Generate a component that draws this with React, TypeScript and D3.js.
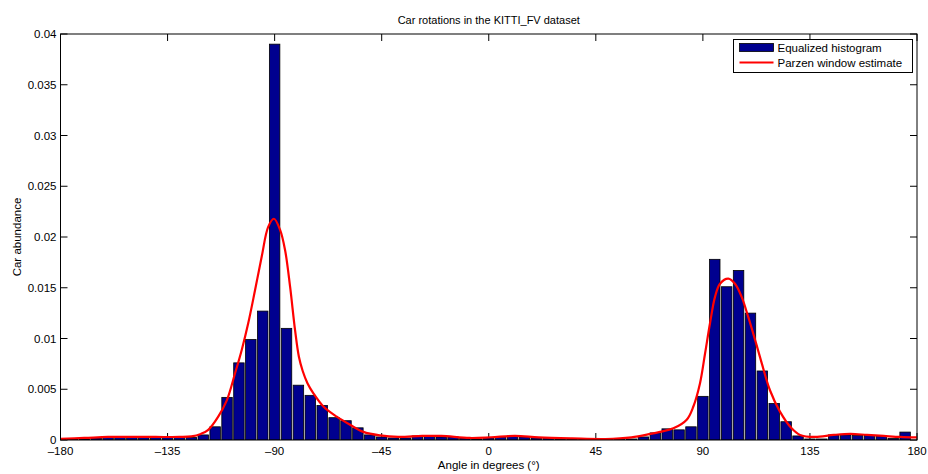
import React from "react";
import * as d3 from "d3";

const binCenters: number[] = d3.range(-180, 180, 5);
const histValues: number[] = [
  0.0001, 0.0001, 0.0001, 0.0002, 0.0003, 0.0003, 0.0003, 0.0003, 0.0003, 0.0003,
  0.0003, 0.00025, 0.0005, 0.0013, 0.0042, 0.0076, 0.0099, 0.0127, 0.039, 0.011,
  0.0054, 0.0044, 0.0034, 0.0022, 0.0019, 0.0012, 0.0005, 0.0003, 0.0002, 0.0002,
  0.0004, 0.0004, 0.0003, 0.0003, 0.0002, 0.0001, 0.0002, 0.0003, 0.0004, 0.0003,
  0.0002, 0.0002, 0.0001, 0.0001, 0.0001, 0.0001, 0.0001, 0.0001, 0.0001, 0.0003,
  0.0007, 0.0011, 0.001, 0.0013, 0.0043, 0.0178, 0.0151, 0.0167, 0.0125, 0.0068,
  0.0036, 0.0018, 0.0004, 0.0001, 0.0001, 0.0005, 0.0005, 0.00045, 0.00045, 0.0004,
  0.00015, 0.00078,
];

const parzenAngles: number[] = [
  -180, -170, -160, -150, -140, -130, -125, -121, -117.9, -113.7, -110.1, -106.6, -103.8,
  -101.1, -98.2, -95.4, -92.7, -90.3, -87.7, -85.6, -83.5, -81.4, -79.8, -78.2, -76.2, -73.7,
  -69.5, -63.9, -58.3, -52.7, -45.7, -38, -28, -20, -8, 1, 11, 21, 35, 49, 60, 68, 72, 77.6,
  83.2, 86, 88.8, 90.9, 93, 95.1, 97.2, 100.7, 103.5, 106.3, 109.1, 111.9, 114.7, 118.2,
  122.4, 127.3, 130.8, 137, 145, 152, 159, 166, 173, 180,
];
const parzenValues: number[] = [
  0.00012, 0.0002, 0.0003, 0.0003, 0.0003, 0.0003, 0.00035, 0.0006, 0.001, 0.0023, 0.0039,
  0.0066, 0.0089, 0.0115, 0.0148, 0.0181, 0.021, 0.0218, 0.0207, 0.0187, 0.0151, 0.0108,
  0.0082, 0.0068, 0.0056, 0.0046, 0.0033, 0.0023, 0.0015, 0.0008, 0.00045, 0.0003, 0.0004,
  0.0004, 0.0002, 0.00027, 0.0004, 0.00026, 0.00016, 0.0001, 0.00026, 0.0006, 0.0008,
  0.00115, 0.002, 0.0033, 0.0056, 0.0085, 0.0115, 0.0141, 0.0154, 0.0159, 0.0154, 0.0141,
  0.0121, 0.0099, 0.0076, 0.0049, 0.0028, 0.00115, 0.0005, 0.0003, 0.0005, 0.0006, 0.0005,
  0.0004, 0.0003, 0.00025,
];

const xTicks: number[] = [-180, -135, -90, -45, 0, 45, 90, 135, 180];
const yTicks: number[] = [0, 0.005, 0.01, 0.015, 0.02, 0.025, 0.03, 0.035, 0.04];

const titleText = "Car rotations in the KITTI_FV dataset";
const xLabelText = "Angle in degrees (°)";
const yLabelText = "Car abundance";
const legendLabels: string[] = ["Equalized histogram", "Parzen window estimate"];

const W = 928;
const H = 474;
const L = 60.5;
const R = 917;
const T = 34;
const B = 440;
const FONT = "'Liberation Sans', Arial, Helvetica, sans-serif";
const FS = 11.5;
const TICK = 7;

const fmtX = (v: number) => (v < 0 ? "\u2013" + Math.abs(v) : String(v));
const fmtY = (v: number) => (v === 0 ? "0" : String(+v.toFixed(3)));

export default function App() {
  const x = d3.scaleLinear().domain([-180, 180]).range([L, R]);
  const y = d3.scaleLinear().domain([0, 0.04]).range([B, T]);
  const binW = 5;
  const barFrac = 0.88;

  const parzen = parzenAngles.map((a, i) => [a, parzenValues[i]] as [number, number]);
  const line = d3
    .line<[number, number]>()
    .x((d) => x(d[0]))
    .y((d) => y(d[1]))
    .curve(d3.curveCatmullRom.alpha(0.5));

  const lx = 733.5;
  const ly = 39.5;
  const lw = 179;
  const lh = 33;

  return (
    <svg width={W} height={H} style={{ position: "absolute", left: 0, top: 0, background: "#fff" }}>
      <rect x={0} y={0} width={W} height={H} fill="#fff" />
      <defs>
        <clipPath id="plotClip">
          <rect x={L} y={T} width={R - L} height={B - T} />
        </clipPath>
      </defs>
      <g stroke="#000" strokeWidth={1}>
        {xTicks.map((t) => (
          <g key={"xt" + t}>
            <line x1={x(t)} x2={x(t)} y1={B} y2={B - TICK} />
            <line x1={x(t)} x2={x(t)} y1={T} y2={T + TICK} />
          </g>
        ))}
        {yTicks.map((t) => (
          <g key={"yt" + t}>
            <line x1={L} x2={L + TICK} y1={y(t)} y2={y(t)} />
            <line x1={R} x2={R - TICK} y1={y(t)} y2={y(t)} />
          </g>
        ))}
      </g>
      <g clipPath="url(#plotClip)">
        {binCenters.map((c, i) => {
          const x0 = x(c - (binW * barFrac) / 2);
          const x1 = x(c + (binW * barFrac) / 2);
          const yt = y(histValues[i]);
          return (
            <rect
              key={"b" + i}
              x={x0}
              y={yt}
              width={x1 - x0}
              height={Math.max(0, B - yt)}
              fill="#00008F"
              stroke="#000"
              strokeWidth={0.8}
            />
          );
        })}
        <path d={line(parzen) || ""} fill="none" stroke="#FF0000" strokeWidth={2.2} strokeLinejoin="round" />
      </g>
      <rect x={L} y={T} width={R - L} height={B - T} fill="none" stroke="#000" strokeWidth={1} />
      <g fontFamily={FONT} fontSize={FS} fill="#000">
        {xTicks.map((t) => (
          <text key={"xl" + t} x={x(t)} y={455} textAnchor="middle">
            {fmtX(t)}
          </text>
        ))}
        {yTicks.map((t) => (
          <text key={"yl" + t} x={L - 4} y={y(t) + 4} textAnchor="end">
            {fmtY(t)}
          </text>
        ))}
        <text x={(L + R) / 2} y={469} textAnchor="middle">
          {xLabelText}
        </text>
        <text transform={`translate(21, ${(T + B) / 2}) rotate(-90)`} textAnchor="middle">
          {yLabelText}
        </text>
        <text x={(L + R) / 2} y={24} textAnchor="middle" fontSize={11}>
          {titleText}
        </text>
      </g>
      <g fontFamily={FONT} fontSize={11.5}>
        <rect x={lx} y={ly} width={lw} height={lh} fill="#fff" stroke="#000" strokeWidth={1} />
        <rect x={lx + 6} y={ly + 4} width={34} height={8} fill="#00008F" stroke="#000" strokeWidth={0.8} />
        <line x1={lx + 6} x2={lx + 40} y1={ly + 23} y2={ly + 23} stroke="#FF0000" strokeWidth={2} />
        <text x={lx + 44} y={ly + 12}>{legendLabels[0]}</text>
        <text x={lx + 44} y={ly + 27}>{legendLabels[1]}</text>
      </g>
    </svg>
  );
}
